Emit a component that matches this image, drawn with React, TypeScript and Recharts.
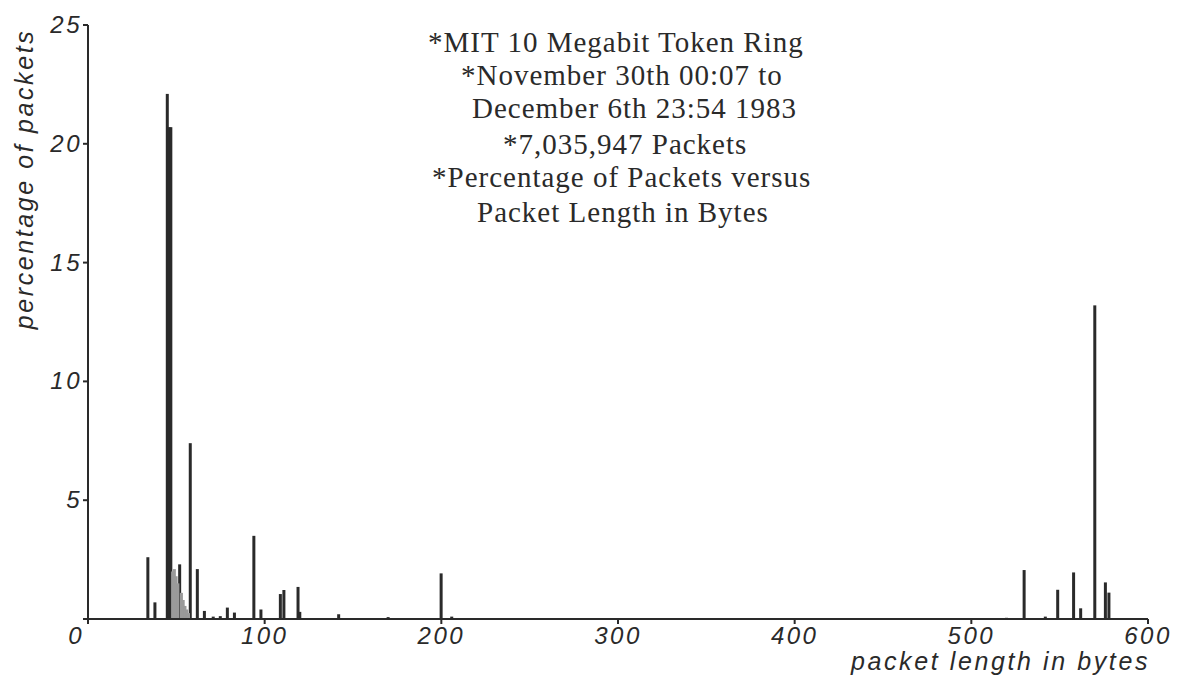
import React from 'react';
import { BarChart, Bar, XAxis, YAxis, Label } from 'recharts';

// packet length (bytes) -> percentage of packets
const darkBytes = [34, 38, 45, 46, 47, 52, 58, 62, 66, 71, 75, 79, 83, 94, 98, 109, 111, 119, 120, 142, 170, 200, 206, 520, 530, 542, 549, 558, 562, 570, 576, 578];
const darkPct = [2.6, 0.7, 22.1, 20.7, 20.7, 2.3, 7.4, 2.1, 0.34, 0.1, 0.12, 0.48, 0.27, 3.5, 0.4, 1.05, 1.22, 1.35, 0.3, 0.2, 0.08, 1.92, 0.1, 0.05, 2.06, 0.1, 1.23, 1.96, 0.45, 13.2, 1.54, 1.11];

// the grey smear of short packets just right of the main peak
const smearBytes = [48, 49, 50, 51, 53, 54, 55, 56, 57];
const smearPct = [2.0, 2.1, 1.8, 1.5, 1.1, 0.8, 0.55, 0.4, 0.25];

const xTicks = [0, 100, 200, 300, 400, 500, 600];
const yTicks = [0, 5, 10, 15, 20, 25];

const titleLines = [
    '*MIT 10 Megabit Token Ring',
    '*November 30th 00:07 to',
    'December 6th 23:54 1983',
    '*7,035,947 Packets',
    '*Percentage of Packets versus',
    'Packet Length in Bytes',
];

const data = [
    ...darkBytes.map((b, i) => ({ bytes: b, pct: darkPct[i] })),
    ...smearBytes.map((b, i) => ({ bytes: b, smear: smearPct[i] })),
].sort((a, b) => a.bytes - b.bytes);

const ink = '#2a2a2a';
const tickFont = { fontFamily: '"Liberation Sans", Arial, sans-serif', fontStyle: 'italic', fontSize: 24, letterSpacing: 2.5, fill: ink };
const labelFont = { ...tickFont, fontSize: 25, letterSpacing: 2.6 };

const XTick = (props: any) => {
    const { x, y, payload } = props;
    const isZero = payload.value === 0;
    return (
        <text x={isZero ? x - 4 : x} y={y} dy={18} textAnchor={isZero ? 'end' : 'middle'} style={tickFont}>
            {payload.value}
        </text>
    );
};

// the band is tiny on a 600-wide numeric axis, so draw each spike at a fixed 3px
const Spike = (props: any) => {
    const { x, y, width, height, fill } = props;
    if (!height || height <= 0) return <g />;
    const cx = x + width / 2;
    return <rect x={cx - 1.5} y={y} width={3} height={height} fill={fill} />;
};

// left edge / baseline of each printed title line
const titleX = [428, 461, 472, 503, 432, 477];
const titleBase = [52, 85, 118, 154, 187, 222];

export default function App() {
    return (
        <div style={{ position: 'absolute', left: 0, top: 0, width: 1188, height: 682, background: '#fff' }}>
            <BarChart width={1188} height={682} data={data} margin={{ top: 25, right: 40, left: 28, bottom: 33 }} barGap={0}>
                <XAxis
                    type="number"
                    dataKey="bytes"
                    domain={[0, 600]}
                    ticks={xTicks}
                    interval={0}
                    stroke={ink}
                    strokeWidth={2}
                    tickSize={5}
                    tick={<XTick />}
                    height={30}
                    allowDataOverflow
                >
                    <Label
                        content={() => (
                            <text x={1150} y={670} textAnchor="end" style={labelFont}>
                                packet length in bytes
                            </text>
                        )}
                    />
                </XAxis>
                <YAxis
                    type="number"
                    domain={[0, 25]}
                    ticks={yTicks}
                    interval={0}
                    stroke={ink}
                    strokeWidth={2}
                    tickSize={5}
                    tickMargin={1}
                    width={60}
                    tick={(p: any) => (p.payload.value === 0 ? <g /> : (
                        <text x={p.x} y={p.y} dy={8} textAnchor="end" style={tickFont}>{p.payload.value}</text>
                    ))}
                >
                    <Label
                        content={() => (
                            <text x={33} y={179} textAnchor="middle" transform="rotate(-90 33 179)" style={labelFont}>
                                percentage of packets
                            </text>
                        )}
                    />
                </YAxis>
                <Bar dataKey="pct" stackId="a" fill={ink} shape={<Spike />} isAnimationActive={false} />
                <Bar dataKey="smear" stackId="a" fill="#9a9a9a" shape={<Spike />} isAnimationActive={false} />
                {titleLines.map((line, i) => (
                    <text
                        key={line}
                        x={titleX[i]}
                        y={titleBase[i]}
                        style={{ fontFamily: '"Liberation Serif", "Times New Roman", serif', fontSize: 29, letterSpacing: 1, fill: ink }}
                    >
                        {line}
                    </text>
                ))}
            </BarChart>
        </div>
    );
}
